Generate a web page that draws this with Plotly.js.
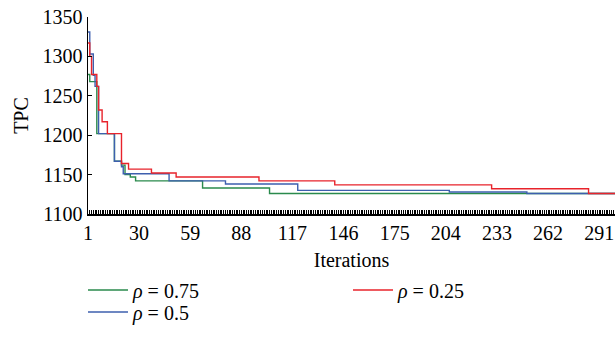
<!DOCTYPE html>
<html>
<head>
<meta charset="utf-8">
<script src="https://cdn.plot.ly/plotly-3.0.1.min.js"></script>
<style>
html,body{margin:0;padding:0;background:#fff;}
#chart{width:615px;height:349px;}
#fontwarm{position:absolute;left:-1000px;top:0;font-family:"Liberation Serif";font-size:20px;}
</style>
</head>
<body>
<div id="fontwarm">1350 Iterations TPC <i>ρ = 0.75</i></div>
<div id="chart"></div>
<script>
// Step change points (iteration where a new best TPC starts)
const greenIter = [1, 2, 6, 16, 20, 22, 25, 28, 66, 104, 300];
const greenTPC  = [1277, 1268, 1202, 1167, 1162, 1150, 1147, 1142, 1133, 1126, 1126];

const blueIter = [1, 2, 4, 5, 7, 16, 20, 21, 47, 79, 120, 206, 250, 300];
const blueTPC  = [1331, 1303, 1276, 1262, 1202, 1167, 1160, 1151, 1142, 1138, 1130, 1128, 1126, 1126];

const redIter = [1, 2, 3, 6, 7, 9, 12, 20, 24, 37, 51, 98, 141, 230, 285, 300];
const redTPC  = [1317, 1300, 1277, 1262, 1232, 1217, 1202, 1164, 1157, 1152, 1147, 1142, 1137, 1132, 1126, 1126];

const seriesNames = ['<i>ρ</i> = 0.75', '<i>ρ</i> = 0.5', '<i>ρ</i> = 0.25'];
const xTickVals = [1, 30, 59, 88, 117, 146, 175, 204, 233, 262, 291];
const yTickVals = [1100, 1150, 1200, 1250, 1300, 1350];

// force the serif font to be resolved before Plotly measures text, then drop the helper
const warm = document.getElementById('fontwarm');
warm.getBoundingClientRect();
warm.remove();

const FONT = '"Liberation Serif", "Times New Roman", Times, serif';
function F() { return {family: FONT, size: 20, color: '#000'}; }

const traces = [
  {x: greenIter, y: greenTPC, name: seriesNames[0], legend: 'legend', mode: 'lines',
   line: {shape: 'hv', color: '#2a8a4c', width: 1.4}},
  {x: blueIter, y: blueTPC, name: seriesNames[1], legend: 'legend3', mode: 'lines',
   line: {shape: 'hv', color: '#3d5fae', width: 1.4}},
  {x: redIter, y: redTPC, name: seriesNames[2], legend: 'legend2', mode: 'lines',
   line: {shape: 'hv', color: '#e8232b', width: 1.4}}
];

function legendAt(xPx, yPx) {
  return {
    orientation: 'h', xref: 'container', yref: 'container',
    x: xPx / 615, y: 1 - yPx / 349, xanchor: 'left', yanchor: 'middle',
    itemwidth: 40,
    font: F(), bgcolor: 'rgba(0,0,0,0)', borderwidth: 0
  };
}

const layout = {
  width: 615, height: 349,
  margin: {l: 88, r: 0, t: 17, b: 135, pad: 0},
  paper_bgcolor: '#fff', plot_bgcolor: '#fff',
  font: F(),
  showlegend: true,
  legend: legendAt(83, 290),
  legend2: legendAt(348, 290),
  legend3: legendAt(83, 312),
  xaxis: {
    range: [1, 300], tickmode: 'array', tickvals: xTickVals, ticktext: xTickVals.map(String),
    tickfont: F(),
    ticks: 'inside', ticklen: 4, tickwidth: 1, tickcolor: '#000',
    minor: {tick0: 1, dtick: 1, ticks: 'inside', ticklen: 4, tickwidth: 1, tickcolor: '#000', showgrid: false},
    showline: true, linecolor: '#000', linewidth: 1.5,
    showgrid: false, zeroline: false,
    title: {text: 'Iterations', font: F()}
  },
  yaxis: {
    range: [1100, 1350], tickmode: 'array', tickvals: yTickVals,
    tickfont: F(),
    ticks: 'inside', ticklen: 4, tickwidth: 1, tickcolor: '#000',
    showline: true, linecolor: '#000', linewidth: 1.5,
    showgrid: false, zeroline: false,
    title: {text: 'TPC', standoff: 8, font: F()}
  }
};

const config = {displayModeBar: false, staticPlot: true};
Plotly.newPlot('chart', traces, layout, config);
if (document.fonts && document.fonts.ready) {
  document.fonts.ready.then(function () { Plotly.react('chart', traces, layout, config); });
}
</script>
</body>
</html>
